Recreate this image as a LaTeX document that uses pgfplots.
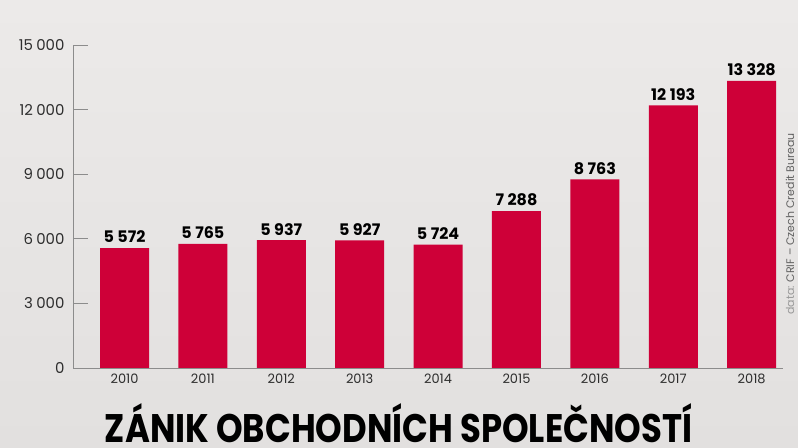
\documentclass[border=0pt]{standalone}
\usepackage{fontspec}
\setmainfont{Poppins}
\newfontfamily\titlefont[FakeStretch=0.85]{Poppins}
\usepackage{pgfplots}
\pgfplotsset{compat=1.18}
\definecolor{barred}{RGB}{206,0,56}
\definecolor{bgbot}{RGB}{226,224,223}
\definecolor{bgtop}{RGB}{236,234,233}
\definecolor{tickc}{RGB}{45,45,45}
\definecolor{axc}{RGB}{140,140,140}
\begin{document}
\begin{tikzpicture}
\useasboundingbox (0,0) rectangle (798bp,448bp);
\shade[top color=bgtop, bottom color=bgbot] (0,0) rectangle (798bp,448bp);
\begin{axis}[
  at={(73bp,80bp)}, anchor=south west,
  scale only axis, width=710bp, height=323bp,
  xmin=-0.657, xmax=8.4, ymin=0, ymax=15000,
  ybar, bar width=49bp, bar shift=0pt,
  axis lines=left, axis line style={-, draw=axc, line width=0.6pt},
  xtick=data,
  xticklabels={2010,2011,2012,2013,2014,2015,2016,2017,2018},
  ytick={0,3000,6000,9000,12000,15000},
  scaled y ticks=false,
  /pgf/number format/assume math mode=true,
  /pgf/number format/1000 sep={\hspace{0.22em}},
  tick align=inside, major tick length=15bp,
  ytick pos=left,
  y tick style={draw=axc, line width=0.6pt},
  x tick style={draw=none},
  yticklabel style={font=\fontsize{15}{15}\selectfont, text=tickc, xshift=-5bp},
  xticklabel style={font=\fontsize{13}{13}\selectfont, text=tickc, yshift=-2bp},
  nodes near coords,
  nodes near coords style={font=\bfseries\fontsize{16}{16}\selectfont, text=black, anchor=south, yshift=1.5bp},
]
\addplot[fill=barred, draw=none] coordinates {
  (0,5572) (1,5765) (2,5937) (3,5927) (4,5724) (5,7288) (6,8763) (7,12193) (8,13328)
};
\end{axis}
\node[anchor=base, inner sep=0pt] at (398.5bp,6bp)
  {\titlefont\bfseries\fontsize{40}{40}\selectfont ZÁNIK OBCHODNÍCH SPOLEČNOSTÍ};
\node[rotate=90, anchor=center, inner sep=0pt] at (790bp,224bp)
  {\fontsize{11}{11}\selectfont\textcolor{gray!80}{data:} \textcolor{black!62}{CRIF – Czech Credit Bureau}};
\end{tikzpicture}
\end{document}
